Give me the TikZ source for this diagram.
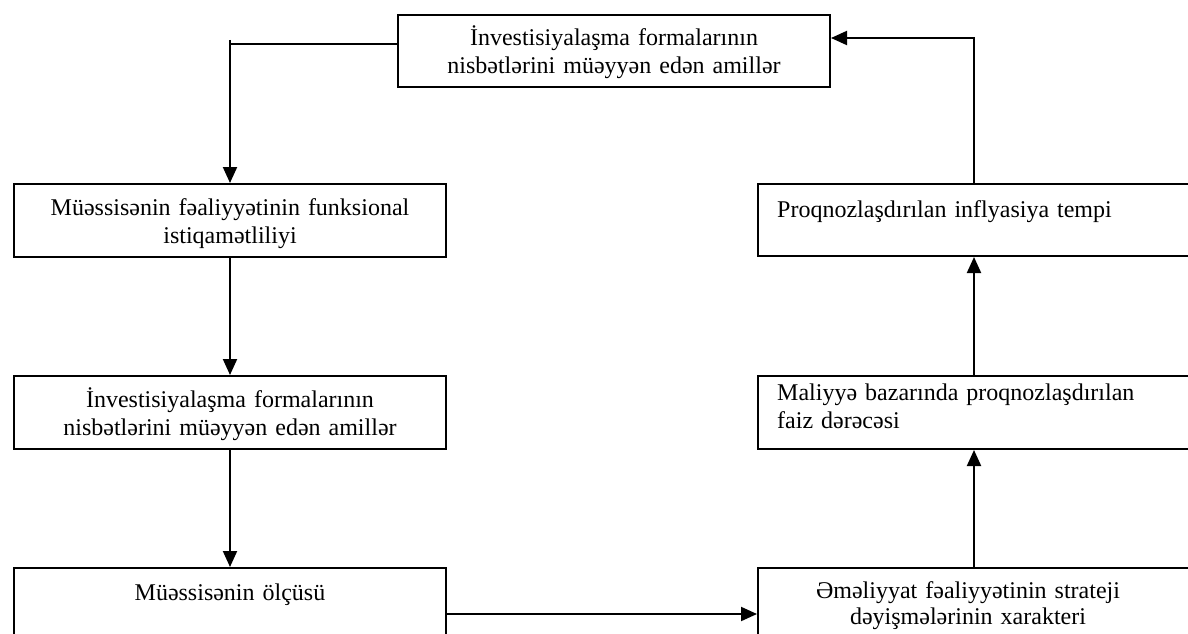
\documentclass[tikz,border=0pt]{standalone}
\usepackage{fontspec}
\setmainfont{Liberation Serif}
\usetikzlibrary{arrows.meta,calc}
\begin{document}
\begin{tikzpicture}[x=1pt,y=-1pt,
  box/.style={draw,line width=2pt,rectangle,inner sep=0pt,anchor=north west,
    minimum width=432pt,minimum height=73pt},
  lbl/.style={inner sep=0pt,font=\fontsize{24}{28}\selectfont},
  ctr/.style={lbl,anchor=base,text width=420pt,align=center},
  lft/.style={lbl,anchor=base west,text width=400pt,align=left},
  link/.style={line width=2pt,-{Triangle[length=16pt,width=14pt]}},
  plain/.style={line width=2pt}]
\useasboundingbox (0,0) rectangle (1188,634);

% boxes
\node[box,minimum height=72pt] (tb) at (397,14) {};
\node[box] (l1) at (13,183) {};
\node[box] (l2) at (13,375) {};
\node[box] (l3) at (13,567) {};
\node[box,minimum height=72pt] (r1) at (757,183) {};
\node[box] (r2) at (757,375) {};
\node[box] (r3) at (757,567) {};

% texts
\node[ctr] (tbt) at ($(tb.north)+(0,32)$) {İnvestisiyalaşma formalarının\\nisbətlərini müəyyən edən amillər};
\node[ctr] (l1t) at ($(l1.north)+(0,32)$) {Müəssisənin fəaliyyətinin funksional\\istiqamətliliyi};
\node[ctr] (l2t) at ($(l2.north)+(0,32)$) {İnvestisiyalaşma formalarının\\nisbətlərini müəyyən edən amillər};
\node[ctr] (l3t) at ($(l3.north)+(0,33)$) {Müəssisənin ölçüsü};
\node[lft] (r1t) at ($(r1.north west)+(20,34)$) {Proqnozlaşdırılan inflyasiya tempi};
\node[lft] (r2t) at ($(r2.north west)+(20,25)$) {Maliyyə bazarında proqnozlaşdırılan\\faiz dərəcəsi};
\node[ctr,font=\fontsize{24}{26}\selectfont] (r3t) at ($(r3.north)+(-6,31)$) {Əməliyyat fəaliyyətinin strateji\\dəyişmələrinin xarakteri};

% connectors
\coordinate (tick) at (229,40);
\draw[plain] (tb.west |- 0,44) -- (l1.north |- 0,44);
\draw[link] (l1.north |- tick) -- (l1.north);
\draw[link] (l1.south) -- (l2.north);
\draw[link] (l2.south) -- (l3.north);
\draw[link] (l3.east |- 0,614) -- (r3.west |- 0,614);
\draw[link] (r3.north) -- (r2.south);
\draw[link] (r2.north) -- (r1.south);
\draw[link] (r1.north) |- (tb.east |- 0,38);
\end{tikzpicture}
\end{document}
